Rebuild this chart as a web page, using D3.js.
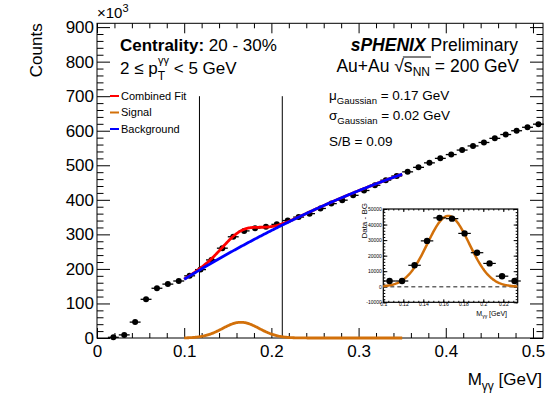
<!DOCTYPE html>
<html>
<head>
<meta charset="utf-8">
<script src="https://cdn.jsdelivr.net/npm/d3@7"></script>
<style>
  body { margin: 0; background: #fff; }
  text { font-family: "Liberation Sans", Arial, Helvetica, sans-serif; fill: #000; }
</style>
</head>
<body>
<div id="chart"></div>
<script>
// diphoton mass bins (GeV) and counts (x10^3)
const massBins = [0.01875, 0.03125, 0.04375, 0.05625, 0.06875, 0.08125, 0.09375, 0.10625,
  0.11875, 0.13125, 0.14375, 0.15625, 0.16875, 0.18125, 0.19375, 0.20625, 0.21875, 0.23125,
  0.24375, 0.25625, 0.26875, 0.28125, 0.29375, 0.30625, 0.31875, 0.33125, 0.34375, 0.35625,
  0.36875, 0.38125, 0.39375, 0.40625, 0.41875, 0.43125, 0.44375, 0.45625, 0.46875, 0.48125,
  0.49375, 0.50625];
const counts = [2, 9, 46, 112, 144, 156, 165, 180, 198, 226, 260, 293, 310, 318, 322, 329,
  340, 350, 360, 375, 389, 399, 413, 427, 442, 457, 469, 481, 494, 507, 520, 531, 544, 556,
  566, 578, 589, 600, 610, 619];
const binHalfWidth = 0.00625;

// inset: data minus background
const insetMass = [0.10625, 0.11875, 0.13125, 0.14375, 0.15625, 0.16875, 0.18125, 0.19375,
  0.20625, 0.21875, 0.23125];
const insetSignal = [3700, 3700, 13800, 29500, 44300, 43800, 34300, 21900, 15000, 6800, 3700];

// fit results
const fitRange = [0.1, 0.35];
const gausMean = 0.165, gausSigma = 0.021, gausAmp = 45.5;   // amp in x10^3
const bgCoef = [2.8, 1801.5, -1299];                       // pol2, x10^3
const windowEdges = [0.1175, 0.2125];

const legendItems = [
  { label: "Combined Fit", color: "#ff0000" },
  { label: "Signal", color: "#d2700a" },
  { label: "Background", color: "#0000ff" }
];
const xMajor = [0, 0.1, 0.2, 0.3, 0.4, 0.5];
const yMajor = [0, 100, 200, 300, 400, 500, 600, 700, 800, 900];

const width = 556, height = 393;
const fL = 97, fR = 543, fT = 23.3, fB = 338;

const svg = d3.select("#chart").append("svg")
  .attr("width", width).attr("height", height)
  .attr("viewBox", `0 0 ${width} ${height}`);

const x = d3.scaleLinear().domain([0, 0.5115]).range([fL, fR]);
const y = d3.scaleLinear().domain([0, 911]).range([fB, fT]);

const signal = m => gausAmp * Math.exp(-0.5 * Math.pow((m - gausMean) / gausSigma, 2));
const background = m => bgCoef[0] + bgCoef[1] * m + bgCoef[2] * m * m;

function drawTicks(g, axisFn, scale, majors, minors, majLen, minLen, fmt, pad, fontSize) {
  const a = g.append("g").call(axisFn(scale).tickValues(majors).tickSize(-majLen)
    .tickPadding(pad).tickFormat(fmt));
  a.select(".domain").remove();
  a.selectAll("line").attr("stroke", "#000");
  a.selectAll("text").attr("font-size", fontSize).attr("font-family", null);
  const b = g.append("g").call(axisFn(scale).tickValues(minors).tickSize(-minLen).tickFormat(""));
  b.select(".domain").remove();
  b.selectAll("line").attr("stroke", "#000");
  return a;
}

// main axes
const xMinor = d3.range(0, 0.5115, 0.02).filter(v => Math.abs(v * 10 - Math.round(v * 10)) > 1e-6);
const yMinor = d3.range(0, 911, 20).filter(v => v % 100 !== 0);

const axes = svg.append("g");
drawTicks(axes.append("g").attr("transform", `translate(0,${fB})`), d3.axisBottom, x,
  xMajor, xMinor, 10, 5, d => d3.format("")(d), 7, 17);
drawTicks(axes.append("g").attr("transform", `translate(0,${fT})`), d3.axisTop, x,
  xMajor, xMinor, 10, 5, "", 0, 0);
drawTicks(axes.append("g").attr("transform", `translate(${fL},0)`), d3.axisLeft, y,
  yMajor, yMinor, 13, 6.5, d => d, 3, 17);
drawTicks(axes.append("g").attr("transform", `translate(${fR},0)`), d3.axisRight, y,
  yMajor, yMinor, 13, 6.5, "", 0, 0);

svg.append("rect").attr("x", fL).attr("y", fT).attr("width", fR - fL).attr("height", fB - fT)
  .attr("fill", "none").attr("stroke", "#000").attr("stroke-width", 1);

// window lines
svg.append("g").selectAll("line").data(windowEdges).join("line")
  .attr("x1", d => x(d)).attr("x2", d => x(d))
  .attr("y1", y(0)).attr("y2", y(700))
  .attr("stroke", "#000").attr("stroke-width", 1);

// data points
const pts = svg.append("g");
pts.selectAll("line").data(massBins).join("line")
  .attr("x1", d => x(d - binHalfWidth)).attr("x2", d => x(d + binHalfWidth))
  .attr("y1", (d, i) => y(counts[i])).attr("y2", (d, i) => y(counts[i]))
  .attr("stroke", "#000").attr("stroke-width", 1.3);
pts.selectAll("circle").data(massBins).join("circle")
  .attr("cx", d => x(d)).attr("cy", (d, i) => y(counts[i])).attr("r", 3).attr("fill", "#000");

// fit curves
const samples = d3.range(fitRange[0], fitRange[1] + 1e-9, 0.001);
const line = fn => d3.line().x(d => x(d)).y(d => y(fn(d)))(samples);
svg.append("path").attr("d", line(m => background(m) + signal(m)))
  .attr("fill", "none").attr("stroke", legendItems[0].color).attr("stroke-width", 2.8);
svg.append("path").attr("d", line(background))
  .attr("fill", "none").attr("stroke", legendItems[2].color).attr("stroke-width", 2.8);
svg.append("path").attr("d", line(signal))
  .attr("fill", "none").attr("stroke", legendItems[1].color).attr("stroke-width", 2.8);

// axis titles
svg.append("text").attr("x", fL).attr("y", 18).attr("font-size", 15)
  .html('×10<tspan font-size="11" dy="-6">3</tspan>');
svg.append("text").attr("transform", `translate(42,${fT}) rotate(-90)`)
  .attr("text-anchor", "end").attr("font-size", 17).text("Counts");
svg.append("text").attr("x", 542).attr("y", 385).attr("text-anchor", "end").attr("font-size", 17)
  .html('M<tspan font-size="12" dy="5">γγ</tspan><tspan dy="-5"> [GeV]</tspan>');

// labels
svg.append("text").attr("x", 120).attr("y", 51).attr("font-size", 17)
  .html('<tspan font-weight="bold">Centrality:</tspan> 20 - 30%');
svg.append("text").attr("x", 120).attr("y", 74).attr("font-size", 17)
  .html('2 ≤ p<tspan font-size="12" dy="6">T</tspan><tspan font-size="11" dx="-7" dy="-16">γγ</tspan><tspan dy="10"> &lt; 5 GeV</tspan>');

svg.append("text").attr("x", 518).attr("y", 51).attr("text-anchor", "end").attr("font-size", 17.5)
  .html('<tspan font-weight="bold" font-style="italic">sPHENIX</tspan> Preliminary');
const au = svg.append("text").attr("x", 519).attr("y", 72).attr("text-anchor", "end")
  .attr("font-size", 17.5)
  .html('Au+Au √s<tspan font-size="12" dy="4">NN</tspan><tspan dy="-4"> = 200 GeV</tspan>');
{
  const node = au.node();
  const rad = node.getExtentOfChar(6), nEnd = node.getExtentOfChar(9);
  svg.append("line").attr("x1", rad.x + rad.width - 1).attr("x2", nEnd.x + nEnd.width + 1)
    .attr("y1", rad.y + 1).attr("y2", rad.y + 1).attr("stroke", "#000").attr("stroke-width", 1);
}

svg.append("text").attr("x", 329).attr("y", 100).attr("font-size", 13.5)
  .html('μ<tspan font-size="9.5" dy="4">Gaussian</tspan><tspan dy="-4"> = 0.17 GeV</tspan>');
svg.append("text").attr("x", 329).attr("y", 120).attr("font-size", 13.5)
  .html('σ<tspan font-size="9.5" dy="4">Gaussian</tspan><tspan dy="-4"> = 0.02 GeV</tspan>');
svg.append("text").attr("x", 329).attr("y", 146).attr("font-size", 13.5).text("S/B = 0.09");

// legend
const leg = svg.append("g").selectAll("g").data(legendItems).join("g")
  .attr("transform", (d, i) => `translate(110,${96 + i * 16.5})`);
leg.append("line").attr("x1", 0).attr("x2", 9).attr("stroke", d => d.color).attr("stroke-width", 2);
leg.append("text").attr("x", 11).attr("dy", "0.35em").attr("font-size", 11).text(d => d.label);

// inset
const iL = 383.3, iR = 517.7, iT = 209, iB = 302.3;
const ix = d3.scaleLinear().domain([0.1, 0.2344]).range([iL, iR]);
const iy = d3.scaleLinear().domain([-10000, 50000]).range([iB, iT]);
const inset = svg.append("g");
inset.append("rect").attr("x", iL).attr("y", iT).attr("width", iR - iL).attr("height", iB - iT)
  .attr("fill", "#fff");
const ixMajor = [0.1, 0.12, 0.14, 0.16, 0.18, 0.2, 0.22];
const ixMinor = d3.range(0.1, 0.2344, 0.005);
const iyMajor = [-10000, 0, 10000, 20000, 30000, 40000, 50000];
const iyMinor = d3.range(-10000, 50001, 2000);
drawTicks(inset.append("g").attr("transform", `translate(0,${iB})`), d3.axisBottom, ix,
  ixMajor, ixMinor, 3, 1.5, d => d3.format("")(+d.toFixed(2)), 0.5, 5);
drawTicks(inset.append("g").attr("transform", `translate(0,${iT})`), d3.axisTop, ix,
  ixMajor, ixMinor, 3, 1.5, "", 0, 0);
drawTicks(inset.append("g").attr("transform", `translate(${iL},0)`), d3.axisLeft, iy,
  iyMajor, iyMinor, 4, 2, d => d, 1.5, 5);
drawTicks(inset.append("g").attr("transform", `translate(${iR},0)`), d3.axisRight, iy,
  iyMajor, iyMinor, 4, 2, "", 0, 0);
inset.append("rect").attr("x", iL).attr("y", iT).attr("width", iR - iL).attr("height", iB - iT)
  .attr("fill", "none").attr("stroke", "#000").attr("stroke-width", 1.2);

inset.append("line").attr("x1", iL).attr("x2", iR).attr("y1", iy(0)).attr("y2", iy(0))
  .attr("stroke", "#666").attr("stroke-width", 1.5).attr("stroke-dasharray", "4,3");

const iSamples = d3.range(0.1, 0.2344, 0.001);
inset.append("path")
  .attr("d", d3.line().x(d => ix(d)).y(d => iy(signal(d) * 1000))(iSamples))
  .attr("fill", "none").attr("stroke", legendItems[1].color).attr("stroke-width", 2.5);

inset.selectAll("line.err").data(insetMass).join("line").attr("class", "err")
  .attr("x1", d => ix(d - binHalfWidth)).attr("x2", d => ix(d + binHalfWidth))
  .attr("y1", (d, i) => iy(insetSignal[i])).attr("y2", (d, i) => iy(insetSignal[i]))
  .attr("stroke", "#000").attr("stroke-width", 1.2);
inset.selectAll("circle").data(insetMass).join("circle")
  .attr("cx", d => ix(d)).attr("cy", (d, i) => iy(insetSignal[i])).attr("r", 3.2)
  .attr("fill", "#000");

inset.append("text").attr("transform", `translate(367,203) rotate(-90)`)
  .attr("text-anchor", "end").attr("font-size", 8).text("Data - BG");
inset.append("text").attr("x", 507).attr("y", 316).attr("text-anchor", "end").attr("font-size", 7)
  .html('M<tspan font-size="5" dy="2">γγ</tspan><tspan dy="-2"> [GeV]</tspan>');
</script>
</body>
</html>
